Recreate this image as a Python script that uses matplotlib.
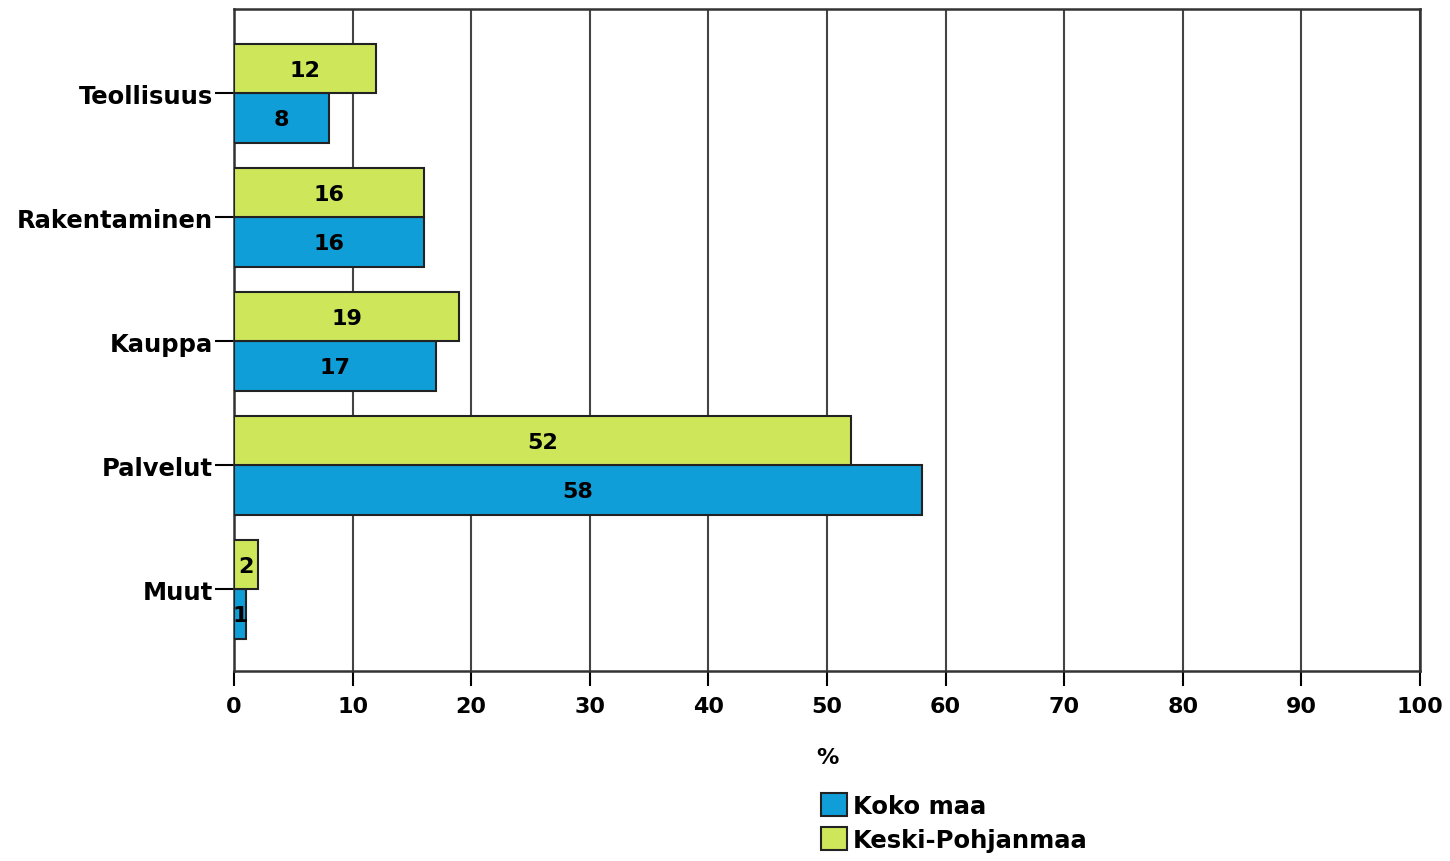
import matplotlib.pyplot as plt
import numpy as np

categories = ["Teollisuus", "Rakentaminen", "Kauppa", "Palvelut", "Muut"]
koko_maa = [8, 16, 17, 58, 1]
keski_pohjanmaa = [12, 16, 19, 52, 2]
series_names = ["Koko maa", "Keski-Pohjanmaa"]

blue = "#109ed8"
green = "#cde65a"

plt.rcParams['font.family'] = ['DejaVu Sans']
plt.rcParams['font.weight'] = 'bold'

fig = plt.figure(figsize=(14.5, 8.62), dpi=100)
ax = fig.add_axes([234/1450, 1 - 672/862, (1420-234)/1450, (672-10)/862])

y = np.arange(len(categories))
h = 0.4
b1 = ax.barh(y + h/2, koko_maa, height=h, color=blue, edgecolor="#222222", linewidth=1.5, zorder=3, label=series_names[0])
b2 = ax.barh(y - h/2, keski_pohjanmaa, height=h, color=green, edgecolor="#222222", linewidth=1.5, zorder=3, label=series_names[1])

for bars, vals in [(b1, koko_maa), (b2, keski_pohjanmaa)]:
    for bar, v in zip(bars, vals):
        ax.text(bar.get_width()/2, bar.get_y() + bar.get_height()/2 + 0.01, str(v),
                ha="center", va="center", fontsize=16, fontweight="bold", zorder=4)

ax.set_xlim(0, 100)
ax.set_ylim(4.66, -0.68)
ax.set_xticks(range(0, 101, 10))
ax.set_yticks(y)
ax.set_yticklabels(categories, fontsize=17.5, fontweight="bold")
ax.tick_params(axis="x", labelsize=16, length=11, width=1.5, pad=7)
ax.tick_params(axis="y", length=14, width=1.5, pad=1)
ax.grid(axis="x", color="#444444", linewidth=1.5, zorder=0)
for s in ax.spines.values():
    s.set_linewidth(1.8)
    s.set_color("#333333")

ax.set_xlabel("%", fontsize=16, fontweight="bold", labelpad=22)

fig.legend(handles=[b1, b2], labels=series_names, loc="upper left",
           bbox_to_anchor=(821/1450, 1 - 794/862), frameon=False,
           fontsize=17.5, handlelength=1.05, handleheight=1.05, handletextpad=0.25,
           labelspacing=0.4, borderpad=0, borderaxespad=0)

fig.savefig("out.png", dpi=100)
